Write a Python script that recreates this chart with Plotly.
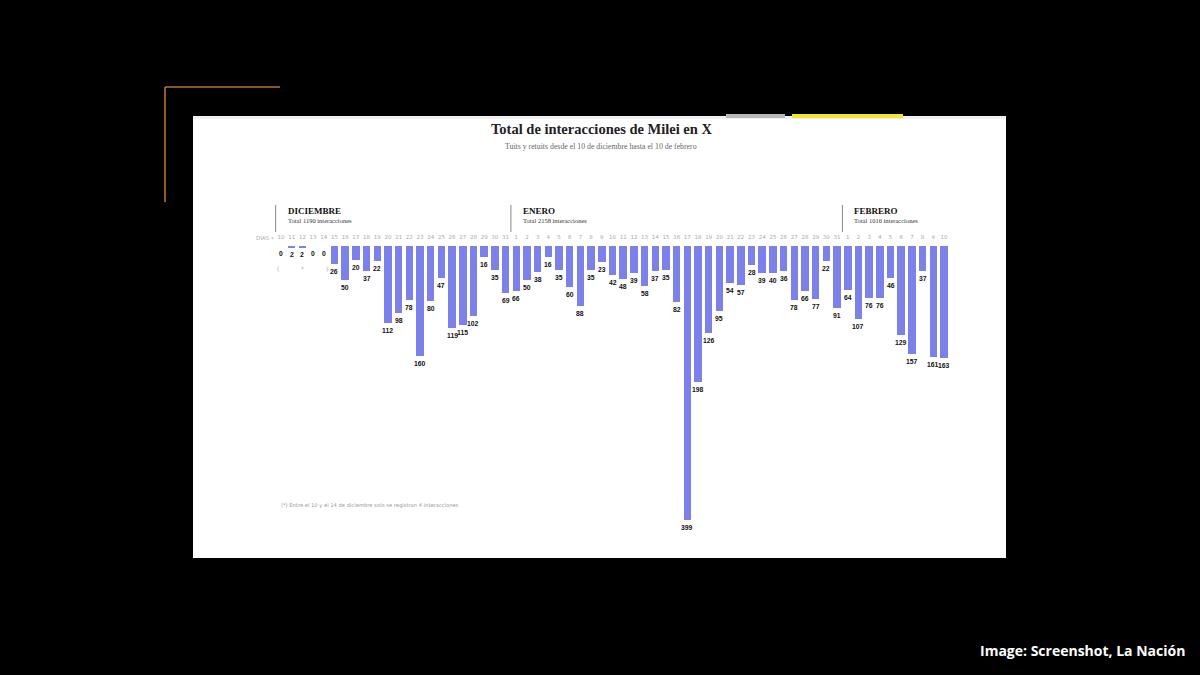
import plotly.graph_objects as go

# ---- data ----
dec_days = [str(d) for d in range(10, 32)]
jan_days = [str(d) for d in range(1, 32)]
feb_days = [str(d) for d in range(1, 11)]
dec_values = [0, 2, 2, 0, 0, 26, 50, 20, 37, 22, 112, 98, 78, 160, 80, 47, 119, 115, 102, 16, 35, 69]
jan_values = [66, 50, 38, 16, 35, 60, 88, 35, 23, 42, 48, 39, 58, 37, 35, 82, 399, 198, 126, 95,
              54, 57, 28, 39, 40, 36, 78, 66, 77, 22, 91]
feb_values = [64, 107, 76, 76, 46, 129, 157, 37, 161, 163]
months = ["DICIEMBRE", "ENERO", "FEBRERO"]
month_totals = ["Total 1190 interacciones", "Total 2158 interacciones", "Total 1016 interacciones"]

title = "Total de interacciones de Milei en X"
subtitle = "Tuits y retuits desde el 10 de diciembre hasta el 10 de febrero"
footnote = "(*) Entre el 10 y el 14 de diciembre solo se registran 4 interacciones"
caption = "Image: Screenshot, La Nación"

day_labels = dec_days + jan_days + feb_days
values = dec_values + jan_values + feb_values
idx = list(range(len(values)))
month_starts = [0, len(dec_days), len(dec_days) + len(jan_days)]

# ---- geometry (pixels) ----
W, H = 1200, 675
PX_L, PX_R, PX_T, PX_B = 193, 1006, 116, 558
BASE_Y = 246
X0_PX, XN_PX = 281, 944
unit = (XN_PX - X0_PX) / (len(values) - 1)
xr0 = (PX_L - X0_PX) / unit
xr1 = (PX_R - X0_PX) / unit
yscale = 0.6867
yr = (PX_B - BASE_Y) / yscale

def py(p):
    return 1 - p / H

def px(p):
    return p / W

BAR = "#7b81e9"

fig = go.Figure()
fig.add_trace(go.Bar(x=idx, y=values, width=0.7, marker=dict(color=BAR, line=dict(width=0)),
                     hoverinfo="skip"))

shapes = [
    dict(type="rect", xref="paper", yref="paper", x0=px(PX_L), x1=px(PX_R), y0=py(PX_B), y1=py(PX_T),
         fillcolor="white", line=dict(width=0), layer="below"),
    dict(type="rect", xref="paper", yref="paper", x0=px(PX_L), x1=px(PX_R), y0=py(119), y1=py(PX_T),
         fillcolor="#f0f0f0", line=dict(width=0), layer="below"),
    dict(type="rect", xref="paper", yref="paper", x0=px(726), x1=px(785), y0=py(118), y1=py(114),
         fillcolor="#b8b8b8", line=dict(width=0)),
    dict(type="rect", xref="paper", yref="paper", x0=px(792), x1=px(903), y0=py(118), y1=py(114),
         fillcolor="#f3e62a", line=dict(width=0)),
    dict(type="line", xref="paper", yref="paper", x0=px(165), x1=px(280), y0=py(87), y1=py(87),
         line=dict(color="#b8742f", width=1.6)),
    dict(type="line", xref="paper", yref="paper", x0=px(165), x1=px(165), y0=py(87), y1=py(202),
         line=dict(color="#b8742f", width=1.6)),
]

def ann(text, x, y, size, color, family, xanchor="center", xref="paper", xshift=0):
    return dict(text=text, xref=xref, yref="paper", x=x, y=y, xanchor=xanchor, yanchor="middle",
                xshift=xshift, showarrow=False, font=dict(family=family, size=size, color=color))

annotations = [
    ann("<b>" + title + "</b>", px(601), py(129), 14.5, "#222", "Liberation Serif"),
    ann(subtitle, px(601), py(147), 7.8, "#666", "Liberation Serif"),
    ann(footnote, px(279), py(505), 5.2, "#999", "DejaVu Sans", xanchor="left"),
    ann("<b>" + caption + "</b>", px(1187), py(650), 14, "white", "Open Sans", xanchor="right"),
    ann("DÍAS •", 0, py(237), 5.5, "#aaa", "DejaVu Sans", xanchor="right", xref="x", xshift=-5),
    ann("(", 0, py(268), 6, "#aaa", "DejaVu Sans", xref="x", xshift=-3),
    ann("*", 2, py(268), 6, "#aaa", "DejaVu Sans", xref="x"),
    ann(")", 4, py(268), 6, "#aaa", "DejaVu Sans", xref="x", xshift=3),
]
# value labels under each bar, anchored to the bar's data value
for i, v in zip(idx, values):
    annotations.append(dict(text="<b>%d</b>" % v, xref="x", yref="y", x=i, y=v, yanchor="top",
                            xanchor="center", yshift=-2, showarrow=False,
                            font=dict(family="Liberation Sans", size=6.8, color="#111")))

for m, t, s in zip(months, month_totals, month_starts):
    shapes.append(dict(type="line", xref="x", yref="paper", x0=s - 0.5, x1=s - 0.5,
                       y0=py(205), y1=py(232), line=dict(color="#888", width=1)))
    annotations.append(ann("<b>" + m + "</b>", s - 0.5, py(211), 9, "#111", "Liberation Serif",
                           xanchor="left", xref="x", xshift=10))
    annotations.append(ann(t, s - 0.5, py(220), 6.5, "#333", "Liberation Serif",
                           xanchor="left", xref="x", xshift=10))

fig.update_layout(
    width=W, height=H, margin=dict(l=0, r=0, t=0, b=0),
    paper_bgcolor="black", plot_bgcolor="rgba(0,0,0,0)",
    showlegend=False, bargap=0,
    shapes=shapes, annotations=annotations,
    xaxis=dict(domain=[px(PX_L), px(PX_R)], range=[xr0, xr1], side="top",
               tickvals=idx, ticktext=day_labels, ticks="", showgrid=False, zeroline=False,
               showline=False, ticklabelstandoff=5,
               tickfont=dict(family="DejaVu Sans", size=5.5, color="#aaa")),
    yaxis=dict(domain=[py(PX_B), py(BASE_Y)], range=[yr, 0], showticklabels=False,
               showgrid=False, zeroline=False, showline=False),
)
fig.write_html("out.html", config={"displayModeBar": False},
               post_script="document.body.style.margin='0';document.body.style.padding='0';"
                           "document.body.style.background='black';")
